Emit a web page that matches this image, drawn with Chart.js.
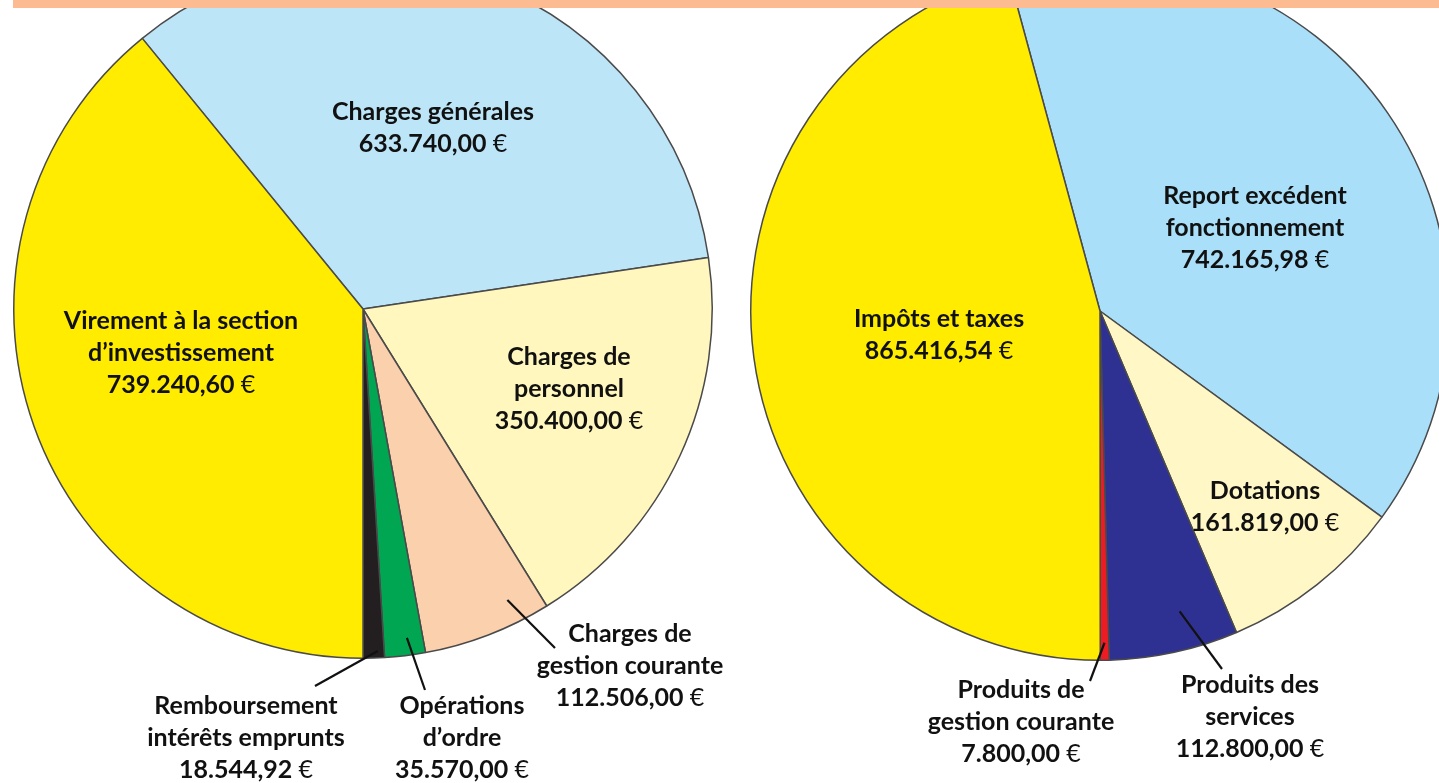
<!DOCTYPE html>
<html>
<head>
<meta charset="utf-8">
<script src="https://cdn.jsdelivr.net/npm/chart.js@4/dist/chart.umd.min.js"></script>
<style>
  html, body { margin: 0; padding: 0; background: #fff; overflow: hidden; width: 1439px; height: 783px; position: relative; }
  canvas { position: absolute; left: 0; }
  #band { position: absolute; left: 13px; top: 0; width: 1426px; height: 8px; background: #fdbb92; z-index: 5; }
</style>
</head>
<body>
<div id="band"></div>
<canvas id="pie-depenses" width="1439" height="824" style="top:-41px"></canvas>
<canvas id="pie-recettes" width="1460" height="822" style="top:-39px"></canvas>
<script>
// Dépenses de fonctionnement (left pie), clockwise from the top
const depensesLabels = [
  ["Charges générales"],
  ["Charges de", "personnel"],
  ["Charges de", "gestion courante"],
  ["Opérations", "d’ordre"],
  ["Remboursement", "intérêts emprunts"],
  ["Virement à la section", "d’investissement"],
];
const depensesValues = [633740.00, 350400.00, 112506.00, 35570.00, 18544.92, 739240.60];
const depensesColors = ["#bde5f8", "#fff7bd", "#fbd0ad", "#00a651", "#231f20", "#ffec00"];

// Recettes de fonctionnement (right pie)
const recettesLabels = [
  ["Report excédent", "fonctionnement"],
  ["Dotations"],
  ["Produits des", "services"],
  ["Produits de", "gestion courante"],
  ["Impôts et taxes"],
];
const recettesValues = [742165.98, 161819.00, 112800.00, 7800.00, 865416.54];
const recettesColors = ["#aadff9", "#fff7c6", "#2e3192", "#ed1c24", "#ffec00"];

// label block placement, offset from the pie centre (px); leader = where the line starts in the slice
const depensesPlacement = [
  { dx: 70, dy: -181 },
  { dx: 206, dy: 80 },
  { dx: 267, dy: 357, leader: { frac: 0.25, r: 0.93, ex: 192, ey: 339 } },
  { dx: 99, dy: 429, leader: { frac: 0.4, r: 0.95, ex: 62, ey: 381 } },
  { dx: -117, dy: 429, leader: { frac: 0.3, r: 0.98, ex: -48, ey: 377 } },
  { dx: -182, dy: 44 },
];
const recettesPlacement = [
  { dx: 155, dy: -83 },
  { dx: 165, dy: 196 },
  { dx: 150, dy: 406, leader: { frac: 0.38, r: 0.89, ex: 122, ey: 358 } },
  { dx: -79, dy: 411, leader: { frac: 0.5, r: 0.95, ex: -10, ey: 370 } },
  { dx: -161, dy: 24 },
];

const FONT = "Lato, 'DejaVu Sans', sans-serif";
const SIZE = 25;
const LINE_H = 32;

function euro(v) {
  const [ent, dec] = v.toFixed(2).split(".");
  return ent.replace(/\B(?=(\d{3})+(?!\d))/g, ".") + "," + dec;
}

const sliceLabels = {
  id: "sliceLabels",
  afterDatasetsDraw(chart, args, opts) {
    const ctx = chart.ctx;
    const meta = chart.getDatasetMeta(0);
    const values = chart.data.datasets[0].data;
    ctx.save();
    ctx.fillStyle = "#111";
    ctx.strokeStyle = "#111";
    ctx.textBaseline = "middle";
    ctx.textAlign = "left";
    meta.data.forEach((arc, i) => {
      const p = arc.getProps(["x", "y", "startAngle", "endAngle", "outerRadius"], true);
      const pl = opts.placement[i];
      const lines = chart.data.labels[i];
      const cx = p.x + pl.dx;
      const n = lines.length + 1;
      let y = p.y + pl.dy - (n - 1) * LINE_H / 2;

      lines.forEach((t) => {
        ctx.font = `bold ${SIZE}px ${FONT}`;
        const w = ctx.measureText(t).width;
        ctx.fillText(t, cx - w / 2, y);
        y += LINE_H;
      });
      // value line: bold number, regular euro sign
      const num = euro(values[i]) + " ";
      ctx.font = `bold ${SIZE}px ${FONT}`;
      const wn = ctx.measureText(num).width;
      ctx.font = `${SIZE}px ${FONT}`;
      const we = ctx.measureText("€").width;
      const x0 = cx - (wn + we) / 2;
      ctx.font = `bold ${SIZE}px ${FONT}`;
      ctx.fillText(num, x0, y);
      ctx.font = `${SIZE}px ${FONT}`;
      ctx.fillText("€", x0 + wn, y);

      if (pl.leader) {
        const L = pl.leader;
        const a = p.startAngle + (p.endAngle - p.startAngle) * L.frac;
        ctx.lineWidth = 2.2;
        ctx.beginPath();
        ctx.moveTo(p.x + Math.cos(a) * p.outerRadius * L.r, p.y + Math.sin(a) * p.outerRadius * L.r);
        ctx.lineTo(p.x + L.ex, p.y + L.ey);
        ctx.stroke();
      }
    });
    ctx.restore();
  },
};

function makePie(id, labels, values, colors, rotation, padding, placement) {
  return new Chart(document.getElementById(id), {
    type: "pie",
    data: {
      labels,
      datasets: [{
        data: values,
        backgroundColor: colors,
        borderColor: "#4a4a4a",
        borderWidth: 1.5,
      }],
    },
    options: {
      responsive: false,
      animation: false,
      rotation,
      layout: { padding },
      plugins: {
        legend: { display: false },
        tooltip: { enabled: false },
        sliceLabels: { placement },
      },
    },
    plugins: [sliceLabels],
  });
}

makePie("pie-depenses", depensesLabels, depensesValues, depensesColors, -39.2,
  { left: 13, right: 726, top: 0, bottom: 124 }, depensesPlacement);
makePie("pie-recettes", recettesLabels, recettesValues, recettesColors, -15.2,
  { left: 750, right: 10, top: 0, bottom: 122 }, recettesPlacement);
</script>
</body>
</html>
